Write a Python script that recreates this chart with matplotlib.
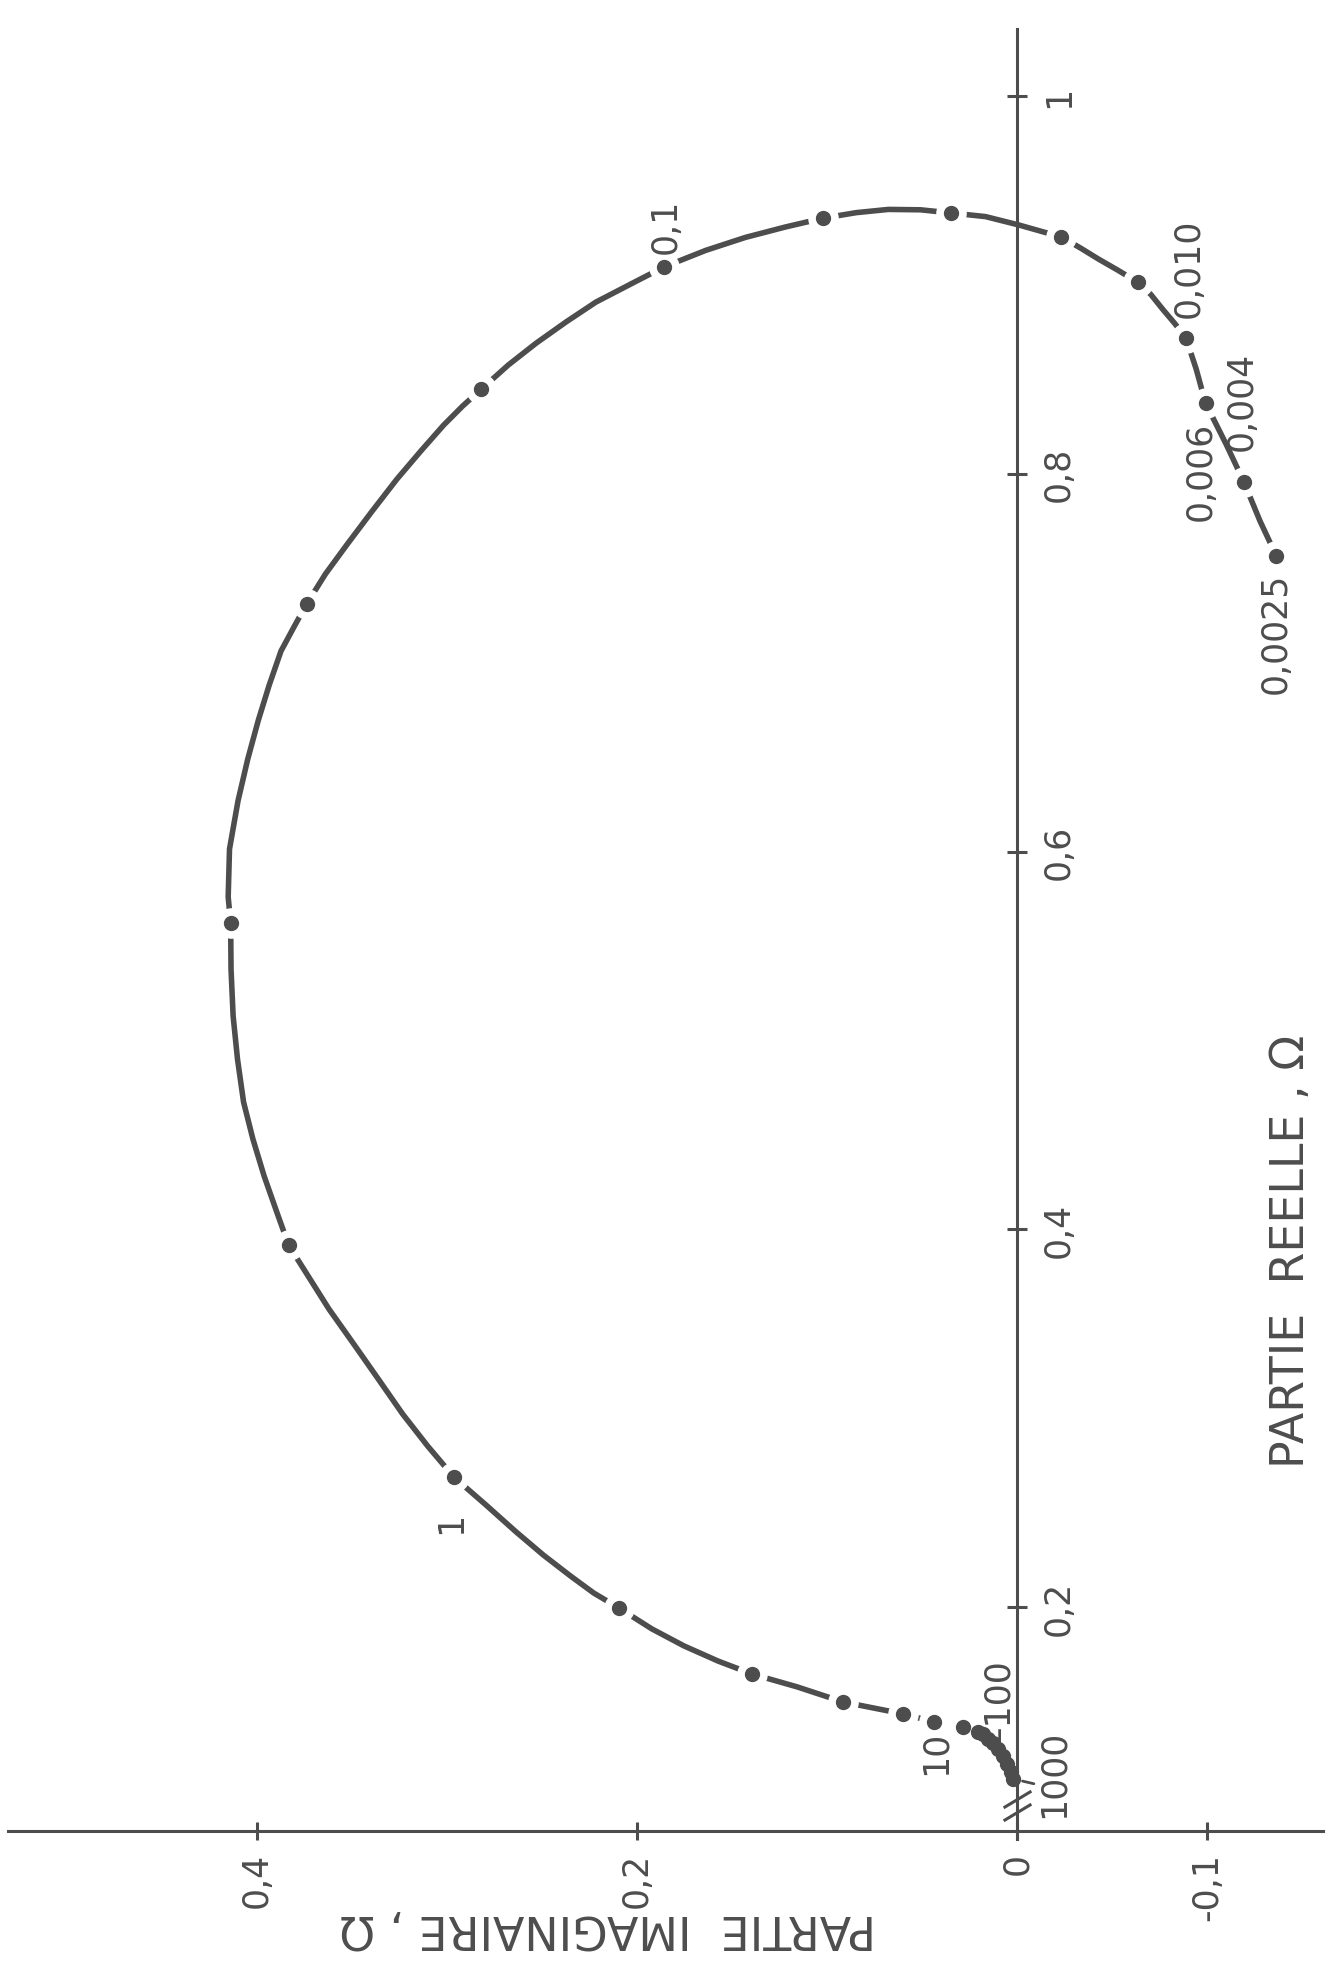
import matplotlib.pyplot as plt

# Diagramme d'impedance (plan complexe), figure tournee de 90 degres :
# partie reelle vers le haut, partie imaginaire vers la gauche.

# trace de la courbe (ohm), des hautes vers les basses frequences
curve_re = [0.1091, 0.1129, 0.1170, 0.1214, 0.1249, 0.1280, 0.1302, 0.1329, 0.1339,
            0.1366, 0.1392, 0.1435, 0.1498, 0.1578, 0.1646, 0.1715, 0.1795, 0.1885,
            0.1996, 0.2075, 0.2165, 0.2276, 0.2398, 0.2541, 0.2689, 0.2853, 0.3023,
            0.3208, 0.3383, 0.3579, 0.3748, 0.3917, 0.4097, 0.4283, 0.4479, 0.4674,
            0.4902, 0.5130, 0.5378, 0.5622, 0.5760, 0.6014, 0.6270, 0.6490, 0.6697,
            0.6882, 0.7062, 0.7189, 0.7311, 0.7470, 0.7628, 0.7803, 0.7972, 0.8121,
            0.8258, 0.8359, 0.8449, 0.8576, 0.8692, 0.8804, 0.8909, 0.9005, 0.9095,
            0.9183, 0.9252, 0.9307, 0.9354, 0.9383, 0.9400, 0.9398, 0.9381, 0.9362,
            0.9318, 0.9285, 0.9254, 0.9195, 0.9137, 0.9078, 0.9015, 0.8950, 0.8870,
            0.8795, 0.8719, 0.8555, 0.8375, 0.8152, 0.7957, 0.7750, 0.7565]
curve_im = [0.0021, 0.0034, 0.0051, 0.0075, 0.0101, 0.0127, 0.0155, 0.0181, 0.0203,
            0.0287, 0.0435, 0.0598, 0.0915, 0.1157, 0.1394, 0.1574, 0.1753, 0.1922,
            0.2096, 0.2228, 0.2350, 0.2493, 0.2636, 0.2795, 0.2964, 0.3102, 0.3234,
            0.3362, 0.3484, 0.3622, 0.3728, 0.3834, 0.3898, 0.3963, 0.4022, 0.4071,
            0.4103, 0.4126, 0.4137, 0.4139, 0.4152, 0.4145, 0.4100, 0.4049, 0.3993,
            0.3936, 0.3874, 0.3806, 0.3739, 0.3640, 0.3525, 0.3394, 0.3264, 0.3138,
            0.3018, 0.2918, 0.2819, 0.2678, 0.2531, 0.2374, 0.2217, 0.2033, 0.1859,
            0.1639, 0.1429, 0.1219, 0.1019, 0.0846, 0.0677, 0.0508, 0.0345, 0.0166,
            -0.0008, -0.0124, -0.0234, -0.0335, -0.0429, -0.0531, -0.0635, -0.0704,
            -0.0768, -0.0831, -0.0889, -0.0943, -0.0992, -0.1103, -0.1194, -0.1279,
            -0.1365]

# points de mesure
dots_re = [0.1091, 0.1129, 0.1170, 0.1214, 0.1249, 0.1280, 0.1302, 0.1329, 0.1339,
           0.1366, 0.1392, 0.1435, 0.1498, 0.1646, 0.1996, 0.2689, 0.3917, 0.5622,
           0.7311, 0.8449, 0.9095, 0.9354, 0.9381, 0.9254, 0.9015, 0.8719, 0.8375,
           0.7957, 0.7565]
dots_im = [0.0021, 0.0034, 0.0051, 0.0075, 0.0101, 0.0127, 0.0155, 0.0181, 0.0203,
           0.0287, 0.0435, 0.0598, 0.0915, 0.1394, 0.2096, 0.2964, 0.3834, 0.4139,
           0.3739, 0.2819, 0.1859, 0.1019, 0.0345, -0.0234, -0.0635, -0.0889, -0.0992,
           -0.1194, -0.1365]

# frequences (Hz) ecrites le long de la courbe
freq_labels = ["\u2013100", "1000", "10", "1", "0,1", "0,010", "0,006", "0,004", "0,0025"]
freq_label_re = [0.1509, 0.1125, 0.1233, 0.2450, 0.9317, 0.9095, 0.8020, 0.8390, 0.7163]
freq_label_im = [0.0094, -0.0190, 0.0429, 0.2978, 0.1850, -0.0905, -0.0967, -0.1185, -0.1360]

real_ticks = [0.2, 0.4, 0.6, 0.8, 1.0]
real_tick_labels = ["0,2", "0,4", "0,6", "0,8", "1"]
imag_ticks = [0.4, 0.2, 0.0, -0.1]
imag_tick_labels = ["0,4", "0,2", "0", "-0,1"]

ink = "#4d4d4d"
axis_re = 0.0815          # position (coupee) de l'axe imaginaire
break_re = [0.0983, 0.0915]

fig = plt.figure(figsize=(13.29, 19.65), dpi=100)
ax = fig.add_axes([0, 0, 1, 1])
ax.set_xlim(0.5353, -0.1642)
ax.set_ylim(0.0111, 1.0514)
ax.axis("off")

# axes
ax.plot([0.5311, -0.1611], [axis_re, axis_re], color=ink, lw=2.2, zorder=3.5)
ax.plot([0, 0], [0.0773, 1.0355], color=ink, lw=2.2, zorder=3.5)
ax.plot([0] * len(real_ticks), real_ticks, ls="none", marker="_", ms=14,
        mew=2.2, color=ink, zorder=3.5)
ax.plot(imag_ticks, [axis_re] * len(imag_ticks), ls="none", marker="|", ms=13,
        mew=2.2, color=ink, zorder=3.5)
# coupure de l'axe reel
ax.plot([0, 0], break_re, ls="none", marker=[(-1, -0.6), (1, 0.6)], ms=20,
        mew=2.2, color=ink, zorder=3.5)

for t, lab in zip(real_ticks, real_tick_labels):
    ax.text(-0.0132, t, lab, rotation=90, ha="left", va="center",
            fontsize=25, color=ink)
for t, lab in zip(imag_ticks, imag_tick_labels):
    ax.text(t, 0.0704, lab, rotation=90, ha="center", va="top",
            fontsize=25, color=ink)

ax.text(-0.1442, 0.389, "PARTIE  REELLE , \u03a9", rotation=90, ha="center",
        va="center", fontsize=33, color=ink)
ax.text(0.2153, 0.0312, "PARTIE  IMAGINAIRE , \u03a9", rotation=180, ha="center",
        va="center", fontsize=33, color=ink)

# courbe, coupee autour de chaque point
ax.plot(curve_im, curve_re, color=ink, lw=4, solid_capstyle="butt",
        solid_joinstyle="round", zorder=2)
ax.plot(dots_im, dots_re, ls="none", marker="o", ms=21, color="white",
        mec="white", zorder=3)
ax.plot(dots_im, dots_re, ls="none", marker="o", ms=10, color=ink,
        mec=ink, zorder=4)

for lab, r, i in zip(freq_labels, freq_label_re, freq_label_im):
    ax.text(i, r, lab, rotation=90, ha="center", va="center", fontsize=25,
            color=ink)

# trait de rappel vers "1000"
ax.annotate("", xy=(dots_im[0], dots_re[0]), xytext=(15, -3.5),
            textcoords="offset points",
            arrowprops=dict(arrowstyle="-", color=ink, lw=2, shrinkA=0, shrinkB=7))

fig.savefig("out.png", dpi=100, facecolor="white")
